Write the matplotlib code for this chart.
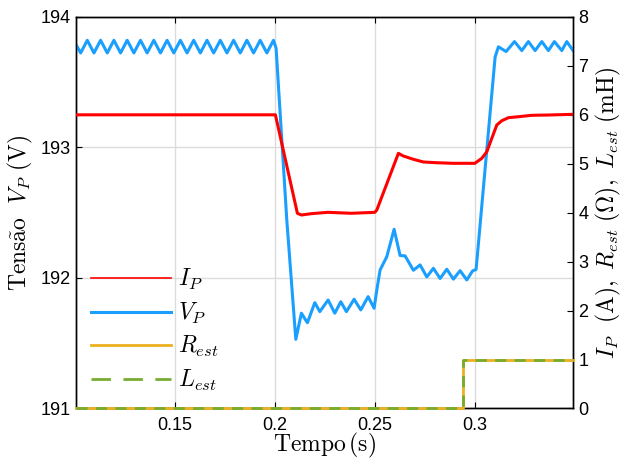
import matplotlib
matplotlib.use("Agg")
import matplotlib.pyplot as plt
from matplotlib.lines import Line2D

plt.rcParams['mathtext.fontset'] = 'cm'
plt.rcParams['font.family'] = ['Liberation Sans', 'DejaVu Sans']

# ---------------- data ----------------
vp_t = [0.1000, 0.10278, 0.1061, 0.10943, 0.11275, 0.11608, 0.1194, 0.12273, 0.12605,
        0.12938, 0.1327, 0.13603, 0.13935, 0.14268, 0.146, 0.14933, 0.15265, 0.15598,
        0.1593, 0.16263, 0.16595, 0.16928, 0.1726, 0.17593, 0.17925, 0.18258, 0.1859,
        0.18923, 0.19255, 0.19588, 0.1992,
        0.2005, 0.20585, 0.21035, 0.21315, 0.21615, 0.21985, 0.22235, 0.2265, 0.22985,
        0.23285, 0.23565, 0.2395, 0.24285, 0.2465, 0.2495, 0.25085, 0.2525, 0.25585,
        0.2595, 0.2625, 0.265, 0.26915, 0.2725, 0.27585, 0.27915, 0.2825, 0.28585,
        0.28915, 0.2925, 0.29585, 0.29875, 0.3005,
        0.3100, 0.31165, 0.3155, 0.3197, 0.32335, 0.32665, 0.3300, 0.33335, 0.33665,
        0.33965, 0.34335, 0.34585, 0.3490]
vp_v = [193.80, 193.724, 193.821, 193.724, 193.821, 193.724, 193.821, 193.724, 193.821,
        193.724, 193.821, 193.724, 193.821, 193.724, 193.821, 193.724, 193.821, 193.724,
        193.821, 193.724, 193.821, 193.724, 193.821, 193.724, 193.821, 193.724, 193.821,
        193.724, 193.821, 193.724, 193.821,
        193.76, 192.444, 191.530, 191.730, 191.657, 191.811, 191.742, 191.831, 191.730,
        191.818, 191.742, 191.837, 191.755, 191.857, 191.768, 191.908, 192.061, 192.163,
        192.373, 192.172, 192.169, 192.059, 192.100, 192.008, 192.074, 191.996, 192.067,
        191.991, 192.056, 191.985, 192.054, 192.065,
        193.692, 193.771, 193.735, 193.811, 193.742, 193.811, 193.742, 193.811, 193.742,
        193.811, 193.742, 193.811, 193.742]

ip_t = [0.1000, 0.20015, 0.21115, 0.21315, 0.2180, 0.2265, 0.23815, 0.24985, 0.25085,
        0.26165, 0.26415, 0.26915, 0.27415, 0.28085, 0.28915, 0.2999, 0.30335, 0.30585,
        0.30835, 0.31085, 0.31335, 0.31665, 0.32165, 0.32835, 0.33665, 0.3490]
ip_v = [6.00, 6.00, 3.988, 3.953, 3.98, 4.008, 3.988, 4.008, 4.055,
        5.213, 5.158, 5.091, 5.036, 5.021, 5.009, 5.009, 5.111, 5.246,
        5.52, 5.792, 5.879, 5.941, 5.961, 5.99, 5.996, 6.01]

est_t = [0.1003, 0.2942, 0.2942, 0.3491]
rest_v = [0, 0, 1, 1]
lest_v = [0, 0, 1, 1]

xticks = [0.15, 0.2, 0.25, 0.3]
xticklabels = ['0.15', '0.2', '0.25', '0.3']
yticks_left = [191, 192, 193, 194]
yticks_right = [0, 1, 2, 3, 4, 5, 6, 7, 8]

# ---------------- colors ----------------
c_ip = '#ff0000'
c_vp = '#1a9fff'
c_r = '#edb120'
c_l = '#77ac30'

fig = plt.figure(figsize=(6.22, 4.61), dpi=100)
ax = fig.add_axes([0.1217, 0.1139, 0.8000, 0.8494])
ax2 = ax.twinx()

ax.plot(vp_t, vp_v, color=c_vp, lw=2.2, zorder=3)
ax2.plot(ip_t, ip_v, color=c_ip, lw=2.2, zorder=4)
ax2.plot(est_t, rest_v, color=c_r, lw=2.0, zorder=5, clip_on=False)
ax2.plot(est_t, lest_v, color=c_l, lw=2.0, dashes=(4, 3), zorder=6, clip_on=False)

ax.set_xlim(0.1003, 0.3491)
ax.set_ylim(191, 194)
ax2.set_ylim(0, 8)
ax.set_xticks(xticks)
ax.set_xticklabels(xticklabels)
ax.set_yticks(yticks_left)
ax2.set_yticks(yticks_right)

ax.grid(True, color='#dcdcdc', lw=1.0)
ax.set_axisbelow(True)

for a in (ax, ax2):
    for s in a.spines.values():
        s.set_linewidth(1.0)
        s.set_color('black')
ax.tick_params(axis='x', direction='in', top=True, length=4, labelsize=13, pad=6)
ax.tick_params(axis='y', direction='in', left=True, right=False, length=4, labelsize=13)
ax2.tick_params(axis='y', direction='in', length=4, labelsize=13)

ax.set_xlabel(r'$\mathrm{Tempo}\,(\mathrm{s})$', fontsize=17, labelpad=-2)
ax.set_ylabel(r'$\mathrm{Tens\tilde{a}o}\ \ V_P\ (\mathrm{V})$', fontsize=17, labelpad=4)
ax2.set_ylabel(r'$I_P\ \ (\mathrm{A}),\ R_{est}\ (\Omega),\ L_{est}\ (\mathrm{mH})$',
               fontsize=17, labelpad=4)

handles = [Line2D([], [], color=c_ip, lw=1.2),
           Line2D([], [], color=c_vp, lw=2.2),
           Line2D([], [], color=c_r, lw=2.0),
           Line2D([], [], color=c_l, lw=2.0, dashes=(7, 4.5))]
labels = [r'$I_P$', r'$V_P$', r'$R_{est}$', r'$L_{est}$']
leg = ax2.legend(handles, labels, loc='lower left', bbox_to_anchor=(0.03, 0.04),
                 frameon=False, fontsize=17, handlelength=3.4, handletextpad=0.3,
                 labelspacing=0.36, borderpad=0, borderaxespad=0)

fig.savefig('out.png', dpi=100)
